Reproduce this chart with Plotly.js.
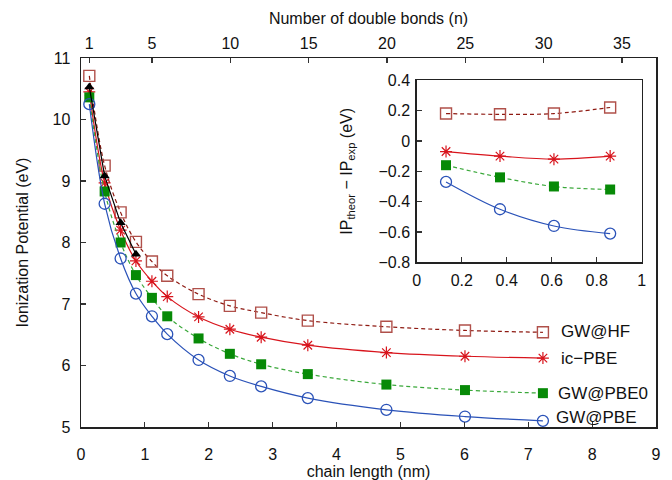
<!DOCTYPE html>
<html>
<head>
<meta charset="utf-8">
<script src="https://cdn.plot.ly/plotly-3.0.1.min.js"></script>
<style>html,body{margin:0;padding:0;background:#fff;}#chart{width:672px;height:480px;}</style>
</head>
<body>
<div id="chart"></div>
<script>
// Main panel: ionization potential vs chain length
const chainLength = [0.13, 0.37, 0.62, 0.86, 1.11, 1.35, 1.84, 2.33, 2.82, 3.55, 4.78, 6.01, 7.23];
const ipGWHF    = [10.71, 9.25, 8.49, 8.01, 7.69, 7.46, 7.16, 6.97, 6.86, 6.73, 6.63, 6.57, 6.54];
const ipIcPBE   = [10.45, 8.97, 8.20, 7.70, 7.37, 7.12, 6.79, 6.59, 6.46, 6.33, 6.21, 6.15, 6.12];
const ipGWPBE0  = [10.36, 8.83, 8.00, 7.47, 7.10, 6.80, 6.44, 6.19, 6.02, 5.86, 5.69, 5.60, 5.55];
const ipGWPBE   = [10.25, 8.63, 7.74, 7.17, 6.80, 6.51, 6.09, 5.83, 5.66, 5.47, 5.28, 5.17, 5.10];
const expLength = [0.13, 0.37, 0.62, 0.86];
const ipExp     = [10.53, 9.08, 8.32, 7.81];

// Inset: IP_theor - IP_exp
const insetLength = [0.13, 0.37, 0.61, 0.86];
const dGWHF   = [0.18, 0.175, 0.18, 0.22];
const dIcPBE  = [-0.07, -0.10, -0.12, -0.10];
const dGWPBE0 = [-0.16, -0.24, -0.30, -0.32];
const dGWPBE  = [-0.27, -0.45, -0.56, -0.61];

// Top axis: number of double bonds
const nTicks = [1, 5, 10, 15, 20, 25, 30, 35];
const seriesNames = ['GW@HF', 'ic\u2212PBE', 'GW@PBE0', 'GW@PBE'];

const FONT = '"Liberation Sans", Arial, Helvetica, sans-serif';
const cHFline = '#8e1a12', cHFmark = '#b0504a';
const cIC = '#d8141c';
const cP0line = '#3aa83a', cP0mark = '#078a07';
const cPBE = '#2a52b8';

function styles(k){
  return [
    {line:{color:cHFline, width:1.2, dash:'4px,3px', shape:'spline'}, marker:{symbol:'square-open', size:11, color:cHFmark, line:{width:1.4, color:cHFmark}}},
    {line:{color:cIC, width:1.2, shape:'spline'}, marker:{symbol:'asterisk-open', size:10, color:cIC, line:{width:1.2, color:cIC}}},
    {line:{color:cP0line, width:1.2, dash:'4px,3px', shape:'spline'}, marker:{symbol:'square', size:10, color:cP0mark}},
    {line:{color:cPBE, width:1.2, shape:'spline'}, marker:{symbol:'circle-open', size:11, color:cPBE, line:{width:1.3, color:cPBE}}}
  ][k];
}

const mainY = [ipGWHF, ipIcPBE, ipGWPBE0, ipGWPBE];
const insetY = [dGWHF, dIcPBE, dGWPBE0, dGWPBE];
const traces = [];
mainY.forEach((ys, k) => {
  const s = styles(k);
  traces.push({x: chainLength, y: ys, name: seriesNames[k], type:'scatter', mode:'lines+markers', line: s.line, marker: s.marker, xaxis:'x', yaxis:'y', cliponaxis:false});
});
traces.push({x: expLength, y: ipExp, name:'exp', type:'scatter', mode:'lines+markers', line:{color:'#000', width:1.2}, marker:{symbol:'triangle-up', size:9, color:'#000'}, xaxis:'x', yaxis:'y', cliponaxis:false});
insetY.forEach((ys, k) => {
  const s = styles(k);
  traces.push({x: insetLength, y: ys, name: seriesNames[k], type:'scatter', mode:'lines+markers', line: s.line, marker: s.marker, xaxis:'x3', yaxis:'y3', cliponaxis:false});
});

const tickFont = {family: FONT, size: 16, color: '#111'};
const titleFont = {family: FONT, size: 16, color: '#111'};
const axisCommon = {showgrid:false, zeroline:false, ticks:'inside', ticklen:5, tickwidth:1.2, tickcolor:'#333', tickfont: tickFont, linecolor:'#222', linewidth:1.5};

const annY = [6.56, 6.11, 5.55, 5.15];
const annX = [7.48, 7.48, 7.44, 7.41];
const annotations = seriesNames.map((t, k) => ({x: annX[k], y: annY[k], xref:'x', yref:'y', text: t, showarrow:false, xanchor:'left', yanchor:'middle', font:{family: FONT, size:17, color:'#111'}}));

const layout = {
  width: 672, height: 480,
  margin: {l:81, r:16, t:58, b:53},
  paper_bgcolor:'#fff', plot_bgcolor:'#fff',
  showlegend:false,
  font:{family: FONT, size: 16, color:'#111'},
  xaxis: Object.assign({}, axisCommon, {range:[0,9], dtick:1, showline:true, mirror:true, ticklabelstandoff:12,
    title:{text:'chain length (nm)', font:titleFont, standoff:0}}),
  xaxis2: Object.assign({}, axisCommon, {overlaying:'x', side:'top', anchor:'y', range:[0.47, 37.17], tickvals:nTicks, showline:false, ticklabelstandoff:5,
    title:{text:'Number of double bonds (n)', font:titleFont, standoff:6}}),
  yaxis: Object.assign({}, axisCommon, {range:[5,11], dtick:1, showline:true, mirror:true, ticklabelstandoff:6,
    title:{text:'Ionization Potential (eV)', font:titleFont, standoff:20}}),
  xaxis3: Object.assign({}, axisCommon, {domain:[0.584, 0.975], anchor:'y3', range:[0,1], dtick:0.2, showline:true, mirror:true, ticklabelstandoff:3}),
  yaxis3: Object.assign({}, axisCommon, {domain:[0.446, 0.940], anchor:'x3', range:[-0.8,0.4], dtick:0.2, showline:true, mirror:true, ticklabelstandoff:2,
    title:{text:'IP<sub>theor</sub> \u2212 IP<sub>exp</sub> (eV)', font:titleFont, standoff:22}}),
  annotations: annotations
};

// trace on xaxis2 (no marks) so the top axis is drawn
traces.push({x:[], y:[], xaxis:'x2', yaxis:'y', type:'scatter', mode:'markers', hoverinfo:'skip', showlegend:false});

Plotly.newPlot('chart', traces, layout, {displayModeBar:false, staticPlot:true});
</script>
</body>
</html>
